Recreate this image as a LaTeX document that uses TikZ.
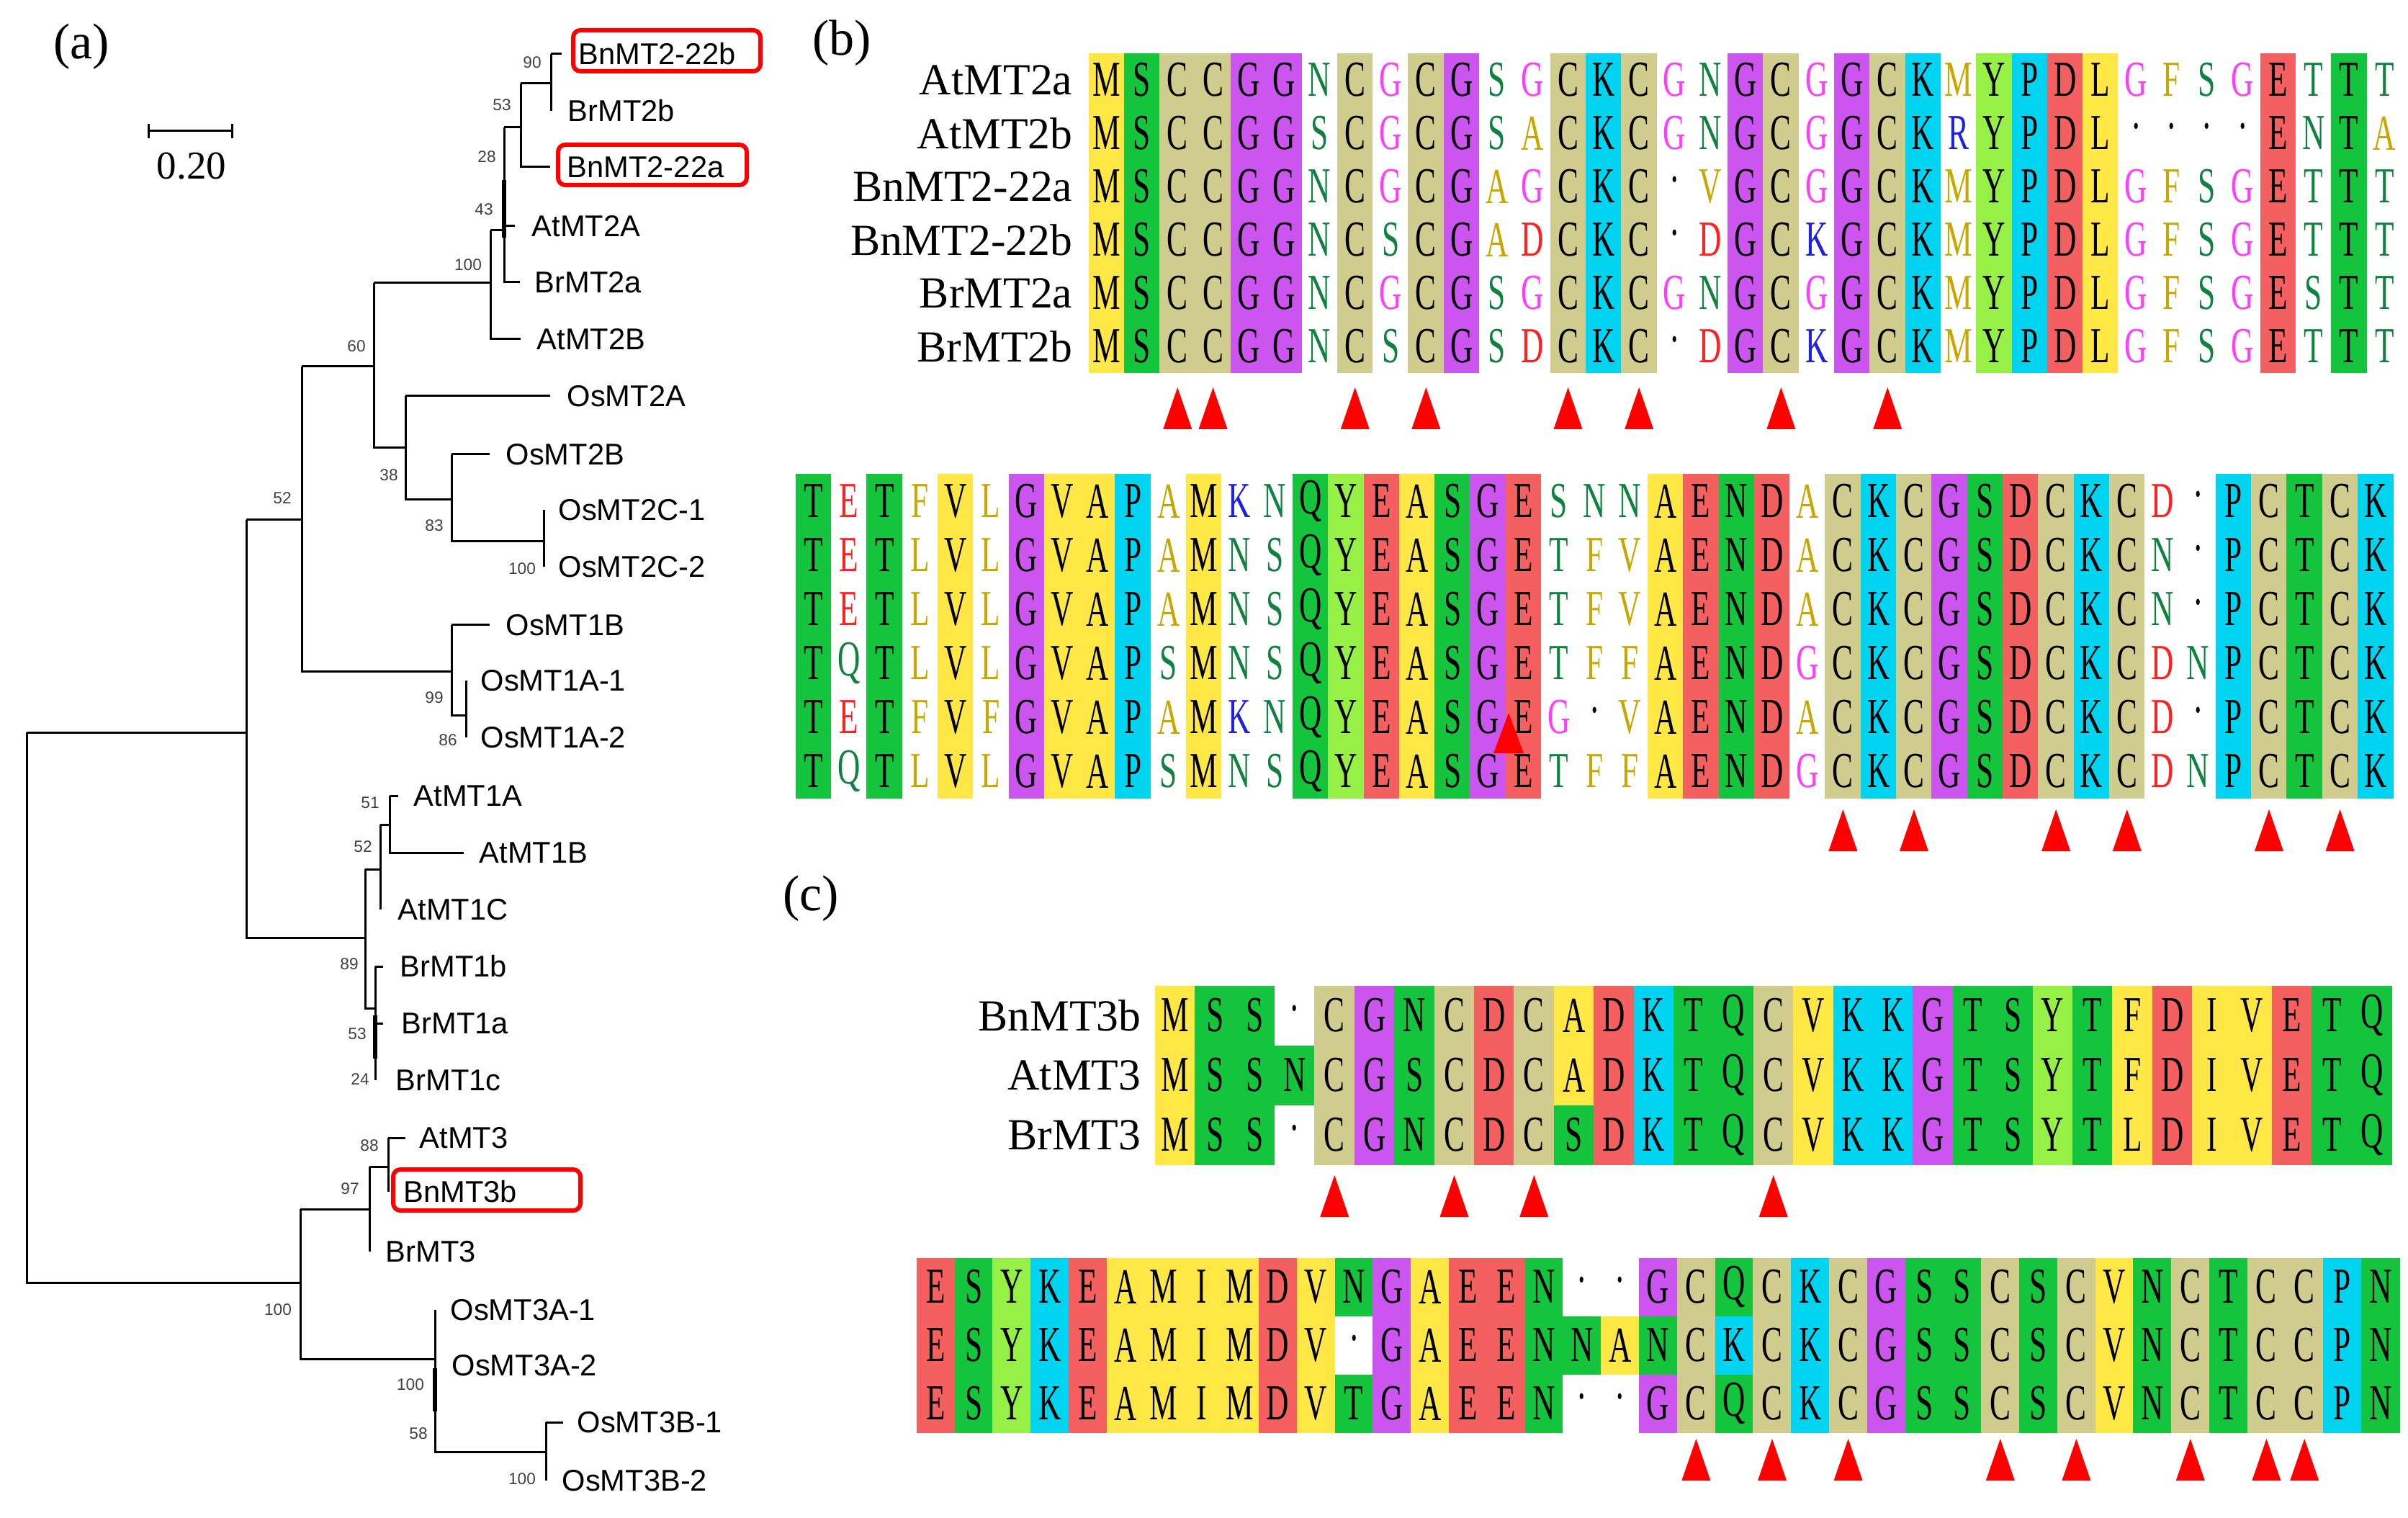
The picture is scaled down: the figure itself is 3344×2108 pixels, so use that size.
\documentclass[tikz,border=0pt]{standalone}
\usepackage{fontspec}
\usepackage{graphicx}
\setmainfont{Liberation Serif}
\newfontfamily\treefont{Liberation Sans}
\usepackage{tikz}
\usepackage{xcolor}

% cell colours
\definecolor{aly}{RGB}{255,232,70}
\definecolor{alg}{RGB}{20,196,60}
\definecolor{alk}{RGB}{208,204,142}
\definecolor{alp}{RGB}{204,85,240}
\definecolor{alc}{RGB}{0,212,240}
\definecolor{alr}{RGB}{244,96,96}
\definecolor{all}{RGB}{150,240,70}
\definecolor{alw}{RGB}{255,255,255}
% letter colours on white cells
\definecolor{txG}{RGB}{255,60,255}
\definecolor{txN}{RGB}{16,130,64}
\colorlet{txS}{txN}\colorlet{txT}{txN}\colorlet{txQ}{txN}
\definecolor{txA}{RGB}{200,168,0}
\colorlet{txF}{txA}\colorlet{txL}{txA}\colorlet{txV}{txA}\colorlet{txM}{txA}
\definecolor{txD}{RGB}{255,32,32}
\colorlet{txE}{txD}
\definecolor{txK}{RGB}{32,32,224}
\colorlet{txR}{txK}
\colorlet{txC}{black}\colorlet{txY}{black}\colorlet{txP}{black}

\tikzset{
  res/.style={inner sep=0pt, font=\fontsize{21}{21}\selectfont},
  seqname/.style={anchor=east, inner sep=0pt, font=\fontsize{18.5}{18.5}\selectfont},
  leaf/.style={anchor=west, inner sep=0pt, font=\treefont\fontsize{12.5}{12.5}\selectfont},
  boot/.style={inner sep=0pt, text=black!75, font=\treefont\fontsize{6.8}{6.8}\selectfont},
  br/.style={line width=0.9pt},
  hilite/.style={draw=red, line width=1.8pt, rounded corners=3pt},
  cysmk/.style={fill=red, draw=none},
  panel/.style={inner sep=0pt, font=\fontsize{21}{21}\selectfont}
}

\makeatletter
\newcount\ar@n
% \alnrow{id}{x0}{y}{col width}{row height}{letters}{cell codes}
\newcommand\alnrow[7]{\def\ar@id{#1}\def\ar@x{#2}\def\ar@y{#3}\def\ar@w{#4}\def\ar@h{#5}%
  \ar@n=0 \edef\ar@tmp{\noexpand\ar@loop#6\relax#7\relax}\ar@tmp}
\def\ar@loop#1#2\relax#3#4\relax{\ar@cell{#1}{#3}\advance\ar@n by 1
  \ifx\relax#2\relax\else\ar@loop#2\relax#4\relax\fi}
\def\ar@cell#1#2{%
  \pgfmathsetmacro\ar@cx{\ar@x+(\the\ar@n+0.5)*\ar@w}%
  \if#2w\def\ar@tc{tx#1}\else\def\ar@tc{black}\fi
  \if-#1\def\ar@tc{black}\def\ar@lt{\textperiodcentered}\else\def\ar@lt{#1}\fi
  \fill[al#2] (\ar@cx-\ar@w/2-0.3,\ar@y-\ar@h/2) rectangle +(\ar@w+0.6,\ar@h);
  \node[res,text=\ar@tc] (\ar@id-\the\ar@n) at (\ar@cx,\ar@y) {\scalebox{.62}[1]{\ar@lt}};}
\makeatother
% red triangle under column #3 of block at x0 #1 with width #2, base y #4
\newcommand\cysmark[4]{\fill[cysmk] ({#1+(#3-0.5)*#2-20},#4) -- ({#1+(#3-0.5)*#2+20},#4) -- ({#1+(#3-0.5)*#2},#4-58) -- cycle;}

\begin{document}
\begin{tikzpicture}[x=0.3pt,y=0.3pt,yscale=-1,xscale=1]
\useasboundingbox (0,0) rectangle (3344,2108);

%% ---------------- (a) tree
\node[panel] (pa) at (113,65) {(a)};
%Scale bar
\draw[br] (206,182) -- (322,182);
\draw[br] (206,172) -- (206,192);
\draw[br] (322,172) -- (322,192);
\node[inner sep=0pt, font=\fontsize{16.5}{16.5}\selectfont] (sbar) at (266,231) {0.20};

%Branches
\draw[br] (37,1017) -- (342,1017);
\draw[br] (37,1017) -- (37,1781) -- (417,1781);
\draw[br] (342,722) -- (342,1302) -- (507,1302);
\draw[br] (342,722) -- (419,722);
\draw[br] (419,509) -- (419,932) -- (627,932);
\draw[br] (419,509) -- (519,509);
\draw[br] (519,393) -- (519,622) -- (563,622);
\draw[br] (519,393) -- (681,393);
\draw[br] (681,320) -- (681,471) -- (723,471);
\draw[br] (681,320) -- (700,320);
\draw[br] (700,177) -- (700,392) -- (722,392);
\draw[line width=1.6pt] (700,250) -- (700,330);
\draw[br] (700,314) -- (715,314);
\draw[br] (700,177) -- (723,177);
\draw[br] (723,116) -- (723,232) -- (764,232);
\draw[br] (723,116) -- (765,116);
\draw[br] (765,75) -- (765,154);
\draw[br] (765,75) -- (780,75);
\draw[br] (563,550) -- (563,694) -- (627,694);
\draw[br] (563,550) -- (764,550);
\draw[br] (627,631) -- (627,752) -- (755,752);
\draw[br] (627,631) -- (680,631);
\draw[br] (755,708) -- (755,787);
\draw[br] (627,868) -- (627,993) -- (647,993);
\draw[br] (627,868) -- (680,868);
\draw[br] (647,945) -- (647,1024);
\draw[br] (507,1207) -- (507,1400) -- (521,1400);
\draw[br] (507,1207) -- (528,1207);
\draw[br] (528,1145) -- (528,1263);
\draw[br] (528,1145) -- (541,1145);
\draw[br] (541,1105) -- (541,1184) -- (644,1184);
\draw[br] (541,1105) -- (553,1105);
\draw[br] (521,1342) -- (521,1500);
\draw[br] (521,1342) -- (532,1342);
\draw[br] (521,1421) -- (532,1421);
\draw[line width=1.6pt] (521,1410) -- (521,1470);
\draw[br] (417,1679) -- (417,1887) -- (604,1887);
\draw[br] (417,1679) -- (513,1679);
\draw[br] (513,1620) -- (513,1738);
\draw[br] (513,1620) -- (539,1620);
\draw[br] (539,1580) -- (539,1655);
\draw[br] (539,1580) -- (563,1580);
\draw[br] (604,1819) -- (604,2016) -- (758,2016);
\draw[line width=1.6pt] (604,1900) -- (604,1960);
\draw[br] (758,1975) -- (758,2056);
\draw[br] (758,1975) -- (782,1975);

%Leaves
\node[leaf] (l1) at (803,75) {BnMT2-22b};
\node[leaf] (l2) at (788,154) {BrMT2b};
\node[leaf] (l3) at (787,232) {BnMT2-22a};
\node[leaf] (l4) at (738,314) {AtMT2A};
\node[leaf] (l5) at (742,392) {BrMT2a};
\node[leaf] (l6) at (745,471) {AtMT2B};
\node[leaf] (l7) at (787,550) {OsMT2A};
\node[leaf] (l8) at (702,631) {OsMT2B};
\node[leaf] (l9) at (775,708) {OsMT2C-1};
\node[leaf] (l10) at (775,787) {OsMT2C-2};
\node[leaf] (l11) at (702,868) {OsMT1B};
\node[leaf] (l12) at (667,945) {OsMT1A-1};
\node[leaf] (l13) at (667,1024) {OsMT1A-2};
\node[leaf] (l14) at (574,1105) {AtMT1A};
\node[leaf] (l15) at (665,1184) {AtMT1B};
\node[leaf] (l16) at (552,1263) {AtMT1C};
\node[leaf] (l17) at (555,1342) {BrMT1b};
\node[leaf] (l18) at (557,1421) {BrMT1a};
\node[leaf] (l19) at (549,1500) {BrMT1c};
\node[leaf] (l20) at (582,1580) {AtMT3};
\node[leaf] (l21) at (560,1655) {BnMT3b};
\node[leaf] (l22) at (535,1738) {BrMT3};
\node[leaf] (l23) at (625,1819) {OsMT3A-1};
\node[leaf] (l24) at (627,1896) {OsMT3A-2};
\node[leaf] (l25) at (801,1975) {OsMT3B-1};
\node[leaf] (l26) at (780,2056) {OsMT3B-2};

%Highlight boxes
\draw[hilite] (796,42) rectangle (1056,99);
\draw[hilite] (775,201) rectangle (1037,257);
\draw[hilite] (546,1624) rectangle (806,1681);

%Bootstrap values
\foreach \bv/\bx/\by [count=\i] in {90/739/87,53/697/146,28/676/218,43/672/291,100/650/368,
  60/495/481,38/540/660,52/392/692,83/603/730,100/725/790,99/603/969,86/622/1028,
  51/514/1115,52/504/1176,89/485/1339,53/496/1436,24/500/1499,88/513/1591,97/486/1651,
  100/386/1819,100/570/1923,58/581/1991,100/725/2054}
  \node[boot] (bs\i) at (\bx,\by) {\bv};

%% ---------------- (b) alignment
\node[panel] (pb) at (1169,60) {(b)};
\foreach \nm/\y [count=\i] in {AtMT2a/111,AtMT2b/185,BnMT2-22a/259,BnMT2-22b/333,BrMT2a/407,BrMT2b/481}
  \node[seqname] (nb\i) at (1490,\y) {\nm};
\def\bcolA{ygkkppwkwkpwwkckwwpkwpkcwlcrywwwwrwgw}
\alnrow{ba1}{1512}{111}{49.3}{74}{MSCCGGNCGCGSGCKCGNGCGGCKMYPDLGFSGETTT}{\bcolA}
\alnrow{ba2}{1512}{185}{49.3}{74}{MSCCGGSCGCGSACKCGNGCGGCKRYPDL----ENTA}{\bcolA}
\alnrow{ba3}{1512}{259}{49.3}{74}{MSCCGGNCGCGAGCKC-VGCGGCKMYPDLGFSGETTT}{\bcolA}
\alnrow{ba4}{1512}{333}{49.3}{74}{MSCCGGNCSCGADCKC-DGCKGCKMYPDLGFSGETTT}{\bcolA}
\alnrow{ba5}{1512}{407}{49.3}{74}{MSCCGGNCGCGSGCKCGNGCGGCKMYPDLGFSGESTT}{\bcolA}
\alnrow{ba6}{1512}{481}{49.3}{74}{MSCCGGNCSCGSDCKC-DGCKGCKMYPDLGFSGETTT}{\bcolA}
\foreach \j in {3,4,8,10,14,16,20,23} {\cysmark{1512}{49.3}{\j}{596}}

\def\bcolB{gwgwywpyycwywwglrygprwwwyrgrwkckpgrkckwwckgkc}
\alnrow{bb1}{1105}{696}{49.3}{75}{TETFVLGVAPAMKNQYEASGESNNAENDACKCGSDCKCD-PCTCK}{\bcolB}
\alnrow{bb2}{1105}{771}{49.3}{75}{TETLVLGVAPAMNSQYEASGETFVAENDACKCGSDCKCN-PCTCK}{\bcolB}
\alnrow{bb3}{1105}{846}{49.3}{75}{TETLVLGVAPAMNSQYEASGETFVAENDACKCGSDCKCN-PCTCK}{\bcolB}
\alnrow{bb4}{1105}{921}{49.3}{75}{TQTLVLGVAPSMNSQYEASGETFFAENDGCKCGSDCKCDNPCTCK}{\bcolB}
\alnrow{bb5}{1105}{996}{49.3}{75}{TETFVFGVAPAMKNQYEASGEG-VAENDACKCGSDCKCD-PCTCK}{\bcolB}
\alnrow{bb6}{1105}{1071}{49.3}{75}{TQTLVLGVAPSMNSQYEASGETFFAENDGCKCGSDCKCDNPCTCK}{\bcolB}
\fill[cysmk] (2074,1046) -- (2116,1046) -- (2095,990) -- cycle;
\foreach \j in {30,32,36,38,42,44} {\cysmark{1105}{49.3}{\j}{1182}}

%% ---------------- (c) alignment
\node[panel] (pc) at (1126,1248) {(c)};
\foreach \nm/\y [count=\i] in {BnMT3b/1410,AtMT3/1493,BrMT3/1576}
  \node[seqname] (nc\i) at (1585,\y) {\nm};
\alnrow{ca1}{1604}{1410}{55.4}{83}{MSS-CGNCDCADKTQCVKKGTSYTFDIVETQ}{yggwkpgkrkyrcggkyccpgglgyryyrgg}
\alnrow{ca2}{1604}{1493}{55.4}{83}{MSSNCGSCDCADKTQCVKKGTSYTFDIVETQ}{ygggkpgkrkyrcggkyccpgglgyryyrgg}
\alnrow{ca3}{1604}{1576}{55.4}{83}{MSS-CGNCDCSDKTQCVKKGTSYTLDIVETQ}{yggwkpgkrkgrcggkyccpgglgyryyrgg}
\foreach \j in {5,8,10,16} {\cysmark{1604}{55.4}{\j}{1690}}

\alnrow{cb1}{1273}{1787}{52.8}{81}{ESYKEAMIMDVNGAEEN--GCQCKCGSSCSCVNCTCCPN}{rglcryyyyrygpyrrgwwpkgkckpggkgkygkgkkcg}
\alnrow{cb2}{1273}{1868}{52.8}{81}{ESYKEAMIMDV-GAEENNANCKCKCGSSCSCVNCTCCPN}{rglcryyyyrywpyrrggygkckckpggkgkygkgkkcg}
\alnrow{cb3}{1273}{1949}{52.8}{81}{ESYKEAMIMDVTGAEEN--GCQCKCGSSCSCVNCTCCPN}{rglcryyyyrygpyrrgwwpkgkckpggkgkygkgkkcg}
\foreach \j in {21,23,25,29,31,34,36,37} {\cysmark{1273}{52.8}{\j}{2056}}
\end{tikzpicture}
\end{document}
